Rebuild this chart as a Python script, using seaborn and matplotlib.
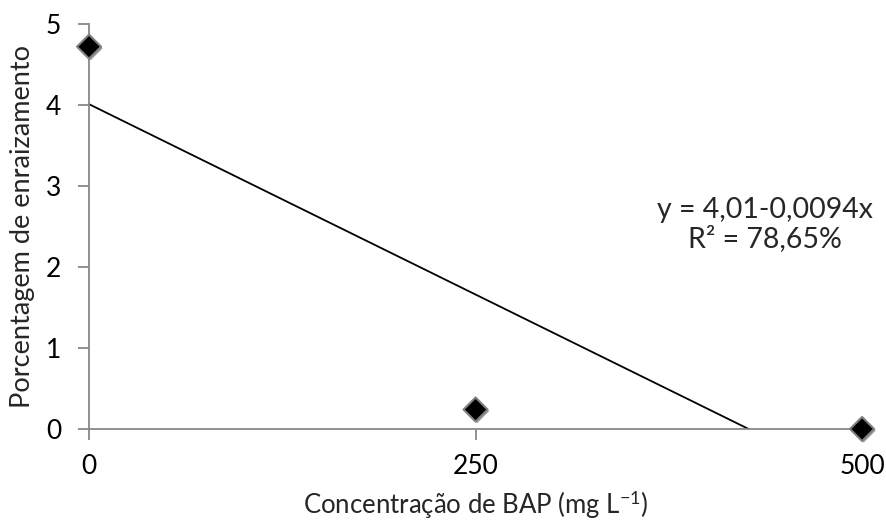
import numpy as np
import pandas as pd
import matplotlib
matplotlib.use("Agg")
import matplotlib.pyplot as plt
import matplotlib.patheffects as pe
import seaborn as sns

# Rooting percentage by BAP concentration
concentracao = [0, 250, 500]
enraizamento = [4.72, 0.24, 0.0]

# Fitted linear model
intercepto = 4.01
inclinacao = -0.0094
equacao = "y = 4,01-0,0094x"
r2_texto = "R² = 78,65%"

x_ticks = [0, 250, 500]
y_ticks = [0, 1, 2, 3, 4, 5]

sns.set_style("white")
plt.rcParams["font.family"] = ["Lato", "DejaVu Sans"]
plt.rcParams["mathtext.fontset"] = "custom"
plt.rcParams["mathtext.rm"] = "Lato"
plt.rcParams["mathtext.it"] = "Lato:italic"

df = pd.DataFrame({"conc": concentracao, "enr": enraizamento})

# regression line from x=0 until it meets y=0
x_fim = -intercepto / inclinacao
linha = pd.DataFrame({"conc": [0.0, x_fim],
                      "enr": [intercepto, intercepto + inclinacao * x_fim]})

fig = plt.figure(figsize=(8.86, 5.25), dpi=100)
ax = fig.add_axes([0.1005, 0.1829, 0.8725, 0.7714])

sns.lineplot(data=linha, x="conc", y="enr", ax=ax, color="black", linewidth=1.3)
sns.scatterplot(data=df, x="conc", y="enr", ax=ax, marker="D", s=150,
                color="black", edgecolor="#7f7f7f", linewidth=1.5, zorder=5,
                clip_on=False)
for coll in ax.collections:
    coll.set_path_effects([pe.SimplePatchShadow(offset=(1.2, -1.2), alpha=0.35),
                           pe.Normal()])

ax.set_xlim(0, 500)
ax.set_ylim(0, 5)
ax.set_xticks(x_ticks)
ax.set_yticks(y_ticks)
ax.set_xticklabels([str(v) for v in x_ticks])
ax.set_yticklabels([str(v) for v in y_ticks])

for side in ("top", "right"):
    ax.spines[side].set_visible(False)
for side in ("left", "bottom"):
    ax.spines[side].set_color("#888888")
    ax.spines[side].set_linewidth(1.3)

ax.tick_params(axis="both", which="major", direction="out", length=8,
               width=1.3, color="#888888", labelsize=19, labelcolor="black",
               left=True, bottom=True)
ax.tick_params(axis="x", pad=10)
ax.tick_params(axis="y", pad=12)

ax.set_xlabel(r"Concentração de BAP (mg L$^{-1}$)", fontsize=18.5, labelpad=7)
ax.set_ylabel("Porcentagem de enraizamento", fontsize=19.5, labelpad=8)

ax.text(437, 2.52, equacao + "\n" + r2_texto, ha="center", va="center",
        fontsize=20.5, linespacing=1.1)

fig.savefig("out.png", dpi=100)
